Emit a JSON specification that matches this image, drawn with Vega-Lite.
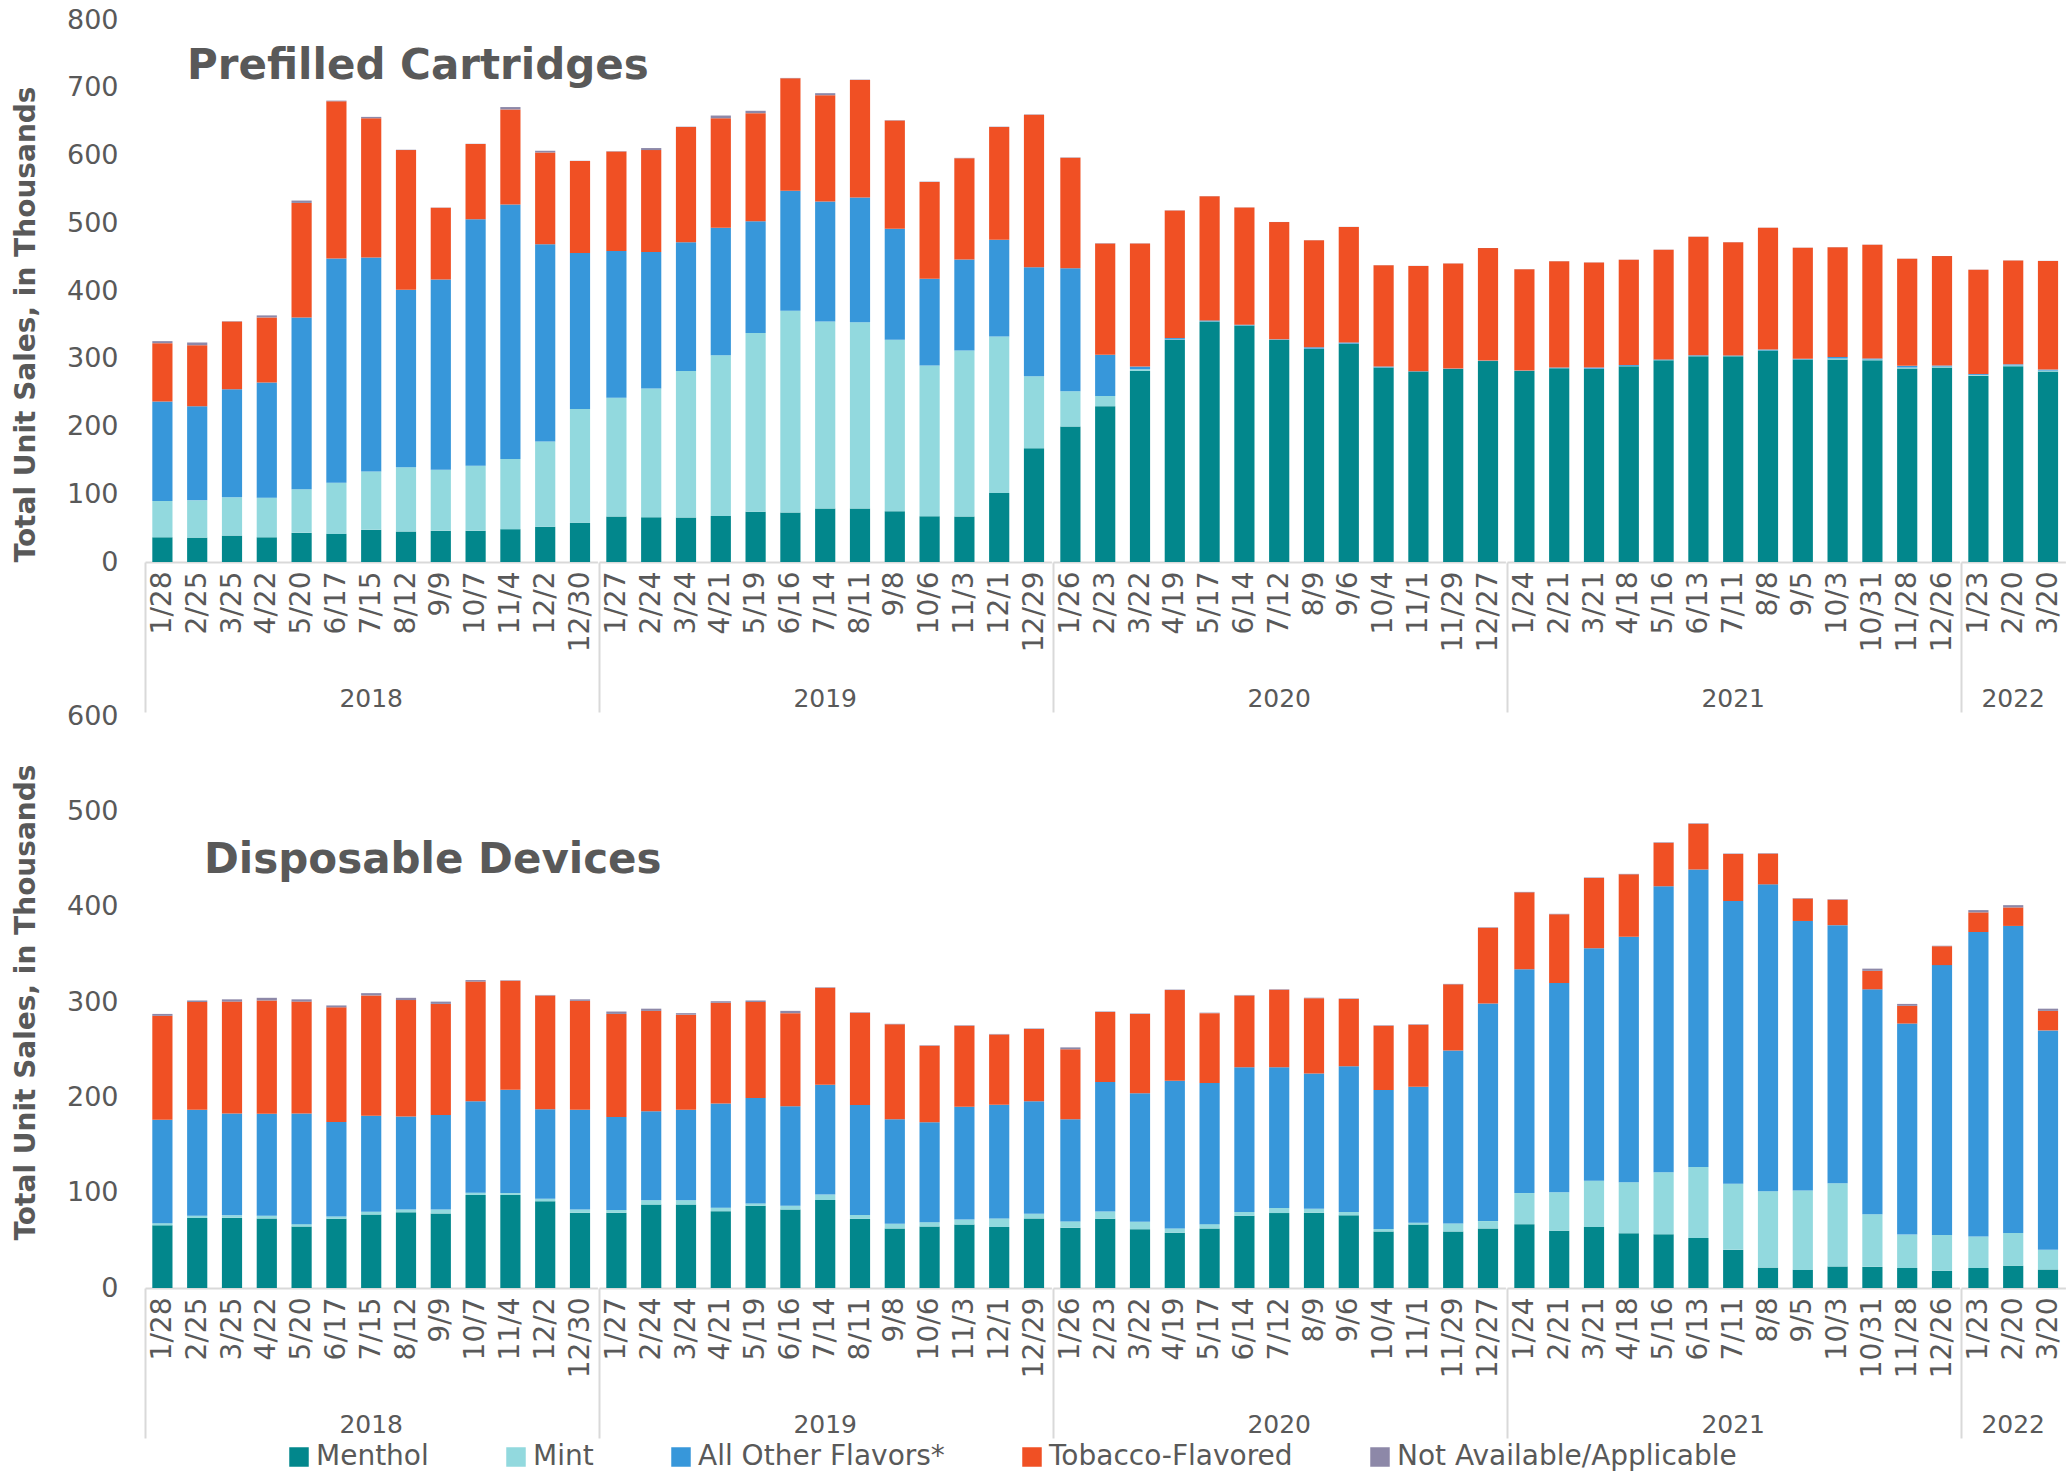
{
  "$schema": "https://vega.github.io/schema/vega-lite/v6.json",
  "padding": {"left": 12, "top": 6, "right": 2, "bottom": 2},
  "background": "white",
  "spacing": -11,
  "config": {
    "view": {"stroke": null},
    "font": "DejaVu Sans",
    "legend": {
      "orient": "none", "legendX": 140, "legendY": 1423, "direction": "horizontal", "title": null, "symbolType": "square",
      "symbolSize": 380, "symbolStrokeWidth": 0, "labelFontSize": 28, "labelColor": "#595959",
      "columnPadding": 73, "labelOffset": 3, "labelLimit": 500
    },
    "header": {"labelFontSize": 25, "labelColor": "#595959", "labelFont": "DejaVu Sans", "labelOrient": "bottom", "labelPadding": -26, "title": null}
  },
  "datasets": {
    "pc": [
      {"y":"2018","d":"1/28","Menthol":36.5,"Mint":53.5,"All Other Flavors*":147,"Tobacco-Flavored":86,"Not Available/Applicable":3},
      {"y":"2018","d":"2/25","Menthol":36,"Mint":55,"All Other Flavors*":139,"Tobacco-Flavored":90,"Not Available/Applicable":4},
      {"y":"2018","d":"3/25","Menthol":39,"Mint":56.5,"All Other Flavors*":159.5,"Tobacco-Flavored":100,"Not Available/Applicable":0.5},
      {"y":"2018","d":"4/22","Menthol":36.5,"Mint":58.5,"All Other Flavors*":170,"Tobacco-Flavored":96,"Not Available/Applicable":3},
      {"y":"2018","d":"5/20","Menthol":43,"Mint":64.5,"All Other Flavors*":253.5,"Tobacco-Flavored":169,"Not Available/Applicable":3.5},
      {"y":"2018","d":"6/17","Menthol":41.5,"Mint":75.5,"All Other Flavors*":331,"Tobacco-Flavored":232,"Not Available/Applicable":1},
      {"y":"2018","d":"7/15","Menthol":47.5,"Mint":86,"All Other Flavors*":316,"Tobacco-Flavored":205.5,"Not Available/Applicable":2},
      {"y":"2018","d":"8/12","Menthol":45,"Mint":95,"All Other Flavors*":262,"Tobacco-Flavored":206,"Not Available/Applicable":0.5},
      {"y":"2018","d":"9/9","Menthol":46,"Mint":90,"All Other Flavors*":281,"Tobacco-Flavored":106,"Not Available/Applicable":0.3},
      {"y":"2018","d":"10/7","Menthol":46,"Mint":96,"All Other Flavors*":364,"Tobacco-Flavored":111,"Not Available/Applicable":0.3},
      {"y":"2018","d":"11/4","Menthol":48.5,"Mint":103.5,"All Other Flavors*":375.5,"Tobacco-Flavored":140.5,"Not Available/Applicable":3.5},
      {"y":"2018","d":"12/2","Menthol":52,"Mint":126,"All Other Flavors*":291,"Tobacco-Flavored":135.5,"Not Available/Applicable":2.5},
      {"y":"2018","d":"12/30","Menthol":58,"Mint":168,"All Other Flavors*":230,"Tobacco-Flavored":136,"Not Available/Applicable":0.3},
      {"y":"2019","d":"1/27","Menthol":67,"Mint":175.5,"All Other Flavors*":216.5,"Tobacco-Flavored":147,"Not Available/Applicable":0.5},
      {"y":"2019","d":"2/24","Menthol":66,"Mint":190,"All Other Flavors*":201.5,"Tobacco-Flavored":150.5,"Not Available/Applicable":3},
      {"y":"2019","d":"3/24","Menthol":65.5,"Mint":216.5,"All Other Flavors*":190,"Tobacco-Flavored":170,"Not Available/Applicable":0.5},
      {"y":"2019","d":"4/21","Menthol":68,"Mint":237,"All Other Flavors*":188.5,"Tobacco-Flavored":161.5,"Not Available/Applicable":4},
      {"y":"2019","d":"5/19","Menthol":74,"Mint":264,"All Other Flavors*":165,"Tobacco-Flavored":159.5,"Not Available/Applicable":3.5},
      {"y":"2019","d":"6/16","Menthol":73,"Mint":298,"All Other Flavors*":177,"Tobacco-Flavored":166,"Not Available/Applicable":0.5},
      {"y":"2019","d":"7/14","Menthol":79,"Mint":276,"All Other Flavors*":177,"Tobacco-Flavored":157,"Not Available/Applicable":3},
      {"y":"2019","d":"8/11","Menthol":79,"Mint":275,"All Other Flavors*":184,"Tobacco-Flavored":173.5,"Not Available/Applicable":0.5},
      {"y":"2019","d":"9/8","Menthol":75,"Mint":253,"All Other Flavors*":164,"Tobacco-Flavored":159.5,"Not Available/Applicable":0.5},
      {"y":"2019","d":"10/6","Menthol":67.5,"Mint":222.5,"All Other Flavors*":128,"Tobacco-Flavored":143,"Not Available/Applicable":0.5},
      {"y":"2019","d":"11/3","Menthol":67,"Mint":245,"All Other Flavors*":134.5,"Tobacco-Flavored":149.5,"Not Available/Applicable":0.5},
      {"y":"2019","d":"12/1","Menthol":102,"Mint":231,"All Other Flavors*":142.5,"Tobacco-Flavored":166.5,"Not Available/Applicable":0.5},
      {"y":"2019","d":"12/29","Menthol":168,"Mint":106,"All Other Flavors*":161,"Tobacco-Flavored":225,"Not Available/Applicable":0.5},
      {"y":"2020","d":"1/26","Menthol":200,"Mint":52,"All Other Flavors*":181.5,"Tobacco-Flavored":163,"Not Available/Applicable":0.5},
      {"y":"2020","d":"2/23","Menthol":230,"Mint":15,"All Other Flavors*":61,"Tobacco-Flavored":164,"Not Available/Applicable":0.5},
      {"y":"2020","d":"3/22","Menthol":282,"Mint":2.5,"All Other Flavors*":4,"Tobacco-Flavored":181.5,"Not Available/Applicable":0.3},
      {"y":"2020","d":"4/19","Menthol":328,"Mint":0.5,"All Other Flavors*":2,"Tobacco-Flavored":188.5,"Not Available/Applicable":0.3},
      {"y":"2020","d":"5/17","Menthol":355,"Mint":0.3,"All Other Flavors*":1.3,"Tobacco-Flavored":183.4,"Not Available/Applicable":0.2},
      {"y":"2020","d":"6/14","Menthol":349,"Mint":0.3,"All Other Flavors*":1,"Tobacco-Flavored":173,"Not Available/Applicable":0.2},
      {"y":"2020","d":"7/12","Menthol":328,"Mint":0.2,"All Other Flavors*":0.5,"Tobacco-Flavored":173,"Not Available/Applicable":0.2},
      {"y":"2020","d":"8/9","Menthol":314.6,"Mint":0.3,"All Other Flavors*":2,"Tobacco-Flavored":158,"Not Available/Applicable":0.2},
      {"y":"2020","d":"9/6","Menthol":322,"Mint":0.3,"All Other Flavors*":1.7,"Tobacco-Flavored":170.5,"Not Available/Applicable":0.2},
      {"y":"2020","d":"10/4","Menthol":287,"Mint":0.3,"All Other Flavors*":1.2,"Tobacco-Flavored":149.5,"Not Available/Applicable":0.2},
      {"y":"2020","d":"11/1","Menthol":281,"Mint":0.2,"All Other Flavors*":0.5,"Tobacco-Flavored":155.3,"Not Available/Applicable":0.2},
      {"y":"2020","d":"11/29","Menthol":285,"Mint":0.2,"All Other Flavors*":0.5,"Tobacco-Flavored":155,"Not Available/Applicable":0.2},
      {"y":"2020","d":"12/27","Menthol":296.6,"Mint":0.2,"All Other Flavors*":0.5,"Tobacco-Flavored":166,"Not Available/Applicable":0.2},
      {"y":"2021","d":"1/24","Menthol":282,"Mint":0.2,"All Other Flavors*":0.5,"Tobacco-Flavored":149.3,"Not Available/Applicable":0.2},
      {"y":"2021","d":"2/21","Menthol":286,"Mint":0.2,"All Other Flavors*":0.8,"Tobacco-Flavored":157,"Not Available/Applicable":0.2},
      {"y":"2021","d":"3/21","Menthol":285,"Mint":0.2,"All Other Flavors*":1.8,"Tobacco-Flavored":155,"Not Available/Applicable":0.2},
      {"y":"2021","d":"4/18","Menthol":289,"Mint":0.3,"All Other Flavors*":1.3,"Tobacco-Flavored":155.4,"Not Available/Applicable":0.2},
      {"y":"2021","d":"5/16","Menthol":297.7,"Mint":0.3,"All Other Flavors*":1,"Tobacco-Flavored":162,"Not Available/Applicable":0.2},
      {"y":"2021","d":"6/13","Menthol":303.7,"Mint":0.3,"All Other Flavors*":1,"Tobacco-Flavored":175,"Not Available/Applicable":0.2},
      {"y":"2021","d":"7/11","Menthol":303.7,"Mint":0.3,"All Other Flavors*":0.8,"Tobacco-Flavored":167.2,"Not Available/Applicable":0.2},
      {"y":"2021","d":"8/8","Menthol":312,"Mint":0.3,"All Other Flavors*":1.2,"Tobacco-Flavored":180,"Not Available/Applicable":0.2},
      {"y":"2021","d":"9/5","Menthol":298.8,"Mint":0.3,"All Other Flavors*":0.9,"Tobacco-Flavored":164,"Not Available/Applicable":0.2},
      {"y":"2021","d":"10/3","Menthol":298.8,"Mint":1.5,"All Other Flavors*":2.3,"Tobacco-Flavored":162,"Not Available/Applicable":0.2},
      {"y":"2021","d":"10/31","Menthol":297.7,"Mint":1.2,"All Other Flavors*":1.5,"Tobacco-Flavored":168,"Not Available/Applicable":0.2},
      {"y":"2021","d":"11/28","Menthol":285.7,"Mint":1.3,"All Other Flavors*":2.5,"Tobacco-Flavored":158,"Not Available/Applicable":0.2},
      {"y":"2021","d":"12/26","Menthol":287,"Mint":1.5,"All Other Flavors*":1.5,"Tobacco-Flavored":161.5,"Not Available/Applicable":0.2},
      {"y":"2022","d":"1/23","Menthol":275,"Mint":1.2,"All Other Flavors*":1.3,"Tobacco-Flavored":153.8,"Not Available/Applicable":0.2},
      {"y":"2022","d":"2/20","Menthol":289,"Mint":1.2,"All Other Flavors*":1.5,"Tobacco-Flavored":153.3,"Not Available/Applicable":0.2},
      {"y":"2022","d":"3/20","Menthol":281,"Mint":1.5,"All Other Flavors*":1.5,"Tobacco-Flavored":160.4,"Not Available/Applicable":0.2}
    ],
    "dd": [
      {"y":"2018","d":"1/28","Menthol":65.7,"Mint":2.3,"All Other Flavors*":108.6,"Tobacco-Flavored":108.9,"Not Available/Applicable":2},
      {"y":"2018","d":"2/25","Menthol":73.4,"Mint":2.4,"All Other Flavors*":111.2,"Tobacco-Flavored":113,"Not Available/Applicable":1.6},
      {"y":"2018","d":"3/25","Menthol":73.8,"Mint":2.4,"All Other Flavors*":106.8,"Tobacco-Flavored":117.4,"Not Available/Applicable":2.4},
      {"y":"2018","d":"4/22","Menthol":73,"Mint":2.8,"All Other Flavors*":106.9,"Tobacco-Flavored":118.9,"Not Available/Applicable":2.8},
      {"y":"2018","d":"5/20","Menthol":64.5,"Mint":2.5,"All Other Flavors*":116,"Tobacco-Flavored":117.4,"Not Available/Applicable":2.4},
      {"y":"2018","d":"6/17","Menthol":72.6,"Mint":2.4,"All Other Flavors*":99,"Tobacco-Flavored":120.4,"Not Available/Applicable":2},
      {"y":"2018","d":"7/15","Menthol":77,"Mint":3,"All Other Flavors*":100.6,"Tobacco-Flavored":126.3,"Not Available/Applicable":2.4},
      {"y":"2018","d":"8/12","Menthol":79.4,"Mint":2.9,"All Other Flavors*":97.5,"Tobacco-Flavored":122.2,"Not Available/Applicable":2.4},
      {"y":"2018","d":"9/9","Menthol":78.2,"Mint":4.1,"All Other Flavors*":99.2,"Tobacco-Flavored":116.5,"Not Available/Applicable":2.4},
      {"y":"2018","d":"10/7","Menthol":97.6,"Mint":2.4,"All Other Flavors*":96,"Tobacco-Flavored":125.4,"Not Available/Applicable":1.6},
      {"y":"2018","d":"11/4","Menthol":97.6,"Mint":2,"All Other Flavors*":108.4,"Tobacco-Flavored":114.2,"Not Available/Applicable":0.5},
      {"y":"2018","d":"12/2","Menthol":91,"Mint":2.5,"All Other Flavors*":94,"Tobacco-Flavored":119.4,"Not Available/Applicable":0.5},
      {"y":"2018","d":"12/30","Menthol":79,"Mint":3.3,"All Other Flavors*":104.7,"Tobacco-Flavored":114.2,"Not Available/Applicable":1.6},
      {"y":"2019","d":"1/27","Menthol":79,"Mint":2.9,"All Other Flavors*":97.5,"Tobacco-Flavored":108.1,"Not Available/Applicable":2.5},
      {"y":"2019","d":"2/24","Menthol":87.5,"Mint":4.5,"All Other Flavors*":93.5,"Tobacco-Flavored":105.2,"Not Available/Applicable":2.3},
      {"y":"2019","d":"3/24","Menthol":87.5,"Mint":4.5,"All Other Flavors*":95,"Tobacco-Flavored":99.7,"Not Available/Applicable":1.6},
      {"y":"2019","d":"4/21","Menthol":80.6,"Mint":3.7,"All Other Flavors*":109.2,"Tobacco-Flavored":105.7,"Not Available/Applicable":1.6},
      {"y":"2019","d":"5/19","Menthol":86.3,"Mint":2.4,"All Other Flavors*":110.5,"Tobacco-Flavored":100.8,"Not Available/Applicable":1.6},
      {"y":"2019","d":"6/16","Menthol":82.3,"Mint":4,"All Other Flavors*":104.4,"Tobacco-Flavored":97.6,"Not Available/Applicable":2.4},
      {"y":"2019","d":"7/14","Menthol":92.3,"Mint":5.7,"All Other Flavors*":115.3,"Tobacco-Flavored":101.7,"Not Available/Applicable":0.5},
      {"y":"2019","d":"8/11","Menthol":72.6,"Mint":4,"All Other Flavors*":115.4,"Tobacco-Flavored":96.7,"Not Available/Applicable":0.5},
      {"y":"2019","d":"9/8","Menthol":62.5,"Mint":4.8,"All Other Flavors*":109.7,"Tobacco-Flavored":99.6,"Not Available/Applicable":0.5},
      {"y":"2019","d":"10/6","Menthol":64.5,"Mint":4.5,"All Other Flavors*":104.8,"Tobacco-Flavored":80.2,"Not Available/Applicable":0.5},
      {"y":"2019","d":"11/3","Menthol":66.5,"Mint":5.3,"All Other Flavors*":118.2,"Tobacco-Flavored":85,"Not Available/Applicable":0.5},
      {"y":"2019","d":"12/1","Menthol":64,"Mint":9,"All Other Flavors*":119.3,"Tobacco-Flavored":73.7,"Not Available/Applicable":0.5},
      {"y":"2019","d":"12/29","Menthol":73,"Mint":4.8,"All Other Flavors*":118.2,"Tobacco-Flavored":75.8,"Not Available/Applicable":0.5},
      {"y":"2020","d":"1/26","Menthol":63.3,"Mint":6.5,"All Other Flavors*":107.2,"Tobacco-Flavored":73.4,"Not Available/Applicable":2},
      {"y":"2020","d":"2/23","Menthol":72.6,"Mint":7.6,"All Other Flavors*":135.8,"Tobacco-Flavored":73.5,"Not Available/Applicable":0.5},
      {"y":"2020","d":"3/22","Menthol":61.7,"Mint":7.7,"All Other Flavors*":135,"Tobacco-Flavored":83.1,"Not Available/Applicable":0.5},
      {"y":"2020","d":"4/19","Menthol":58,"Mint":4.5,"All Other Flavors*":154.8,"Tobacco-Flavored":95.2,"Not Available/Applicable":0.5},
      {"y":"2020","d":"5/17","Menthol":62.5,"Mint":4.5,"All Other Flavors*":148,"Tobacco-Flavored":73.3,"Not Available/Applicable":0.5},
      {"y":"2020","d":"6/14","Menthol":75.8,"Mint":4,"All Other Flavors*":151.7,"Tobacco-Flavored":75.4,"Not Available/Applicable":0.5},
      {"y":"2020","d":"7/12","Menthol":78.6,"Mint":5.3,"All Other Flavors*":147.6,"Tobacco-Flavored":81.4,"Not Available/Applicable":0.5},
      {"y":"2020","d":"8/9","Menthol":79,"Mint":4,"All Other Flavors*":142,"Tobacco-Flavored":79,"Not Available/Applicable":0.5},
      {"y":"2020","d":"9/6","Menthol":76.2,"Mint":3.6,"All Other Flavors*":152.9,"Tobacco-Flavored":70.5,"Not Available/Applicable":0.5},
      {"y":"2020","d":"10/4","Menthol":59.3,"Mint":2.7,"All Other Flavors*":145.7,"Tobacco-Flavored":67.3,"Not Available/Applicable":0.5},
      {"y":"2020","d":"11/1","Menthol":66.5,"Mint":2,"All Other Flavors*":142.5,"Tobacco-Flavored":65.2,"Not Available/Applicable":0.5},
      {"y":"2020","d":"11/29","Menthol":59.3,"Mint":8.4,"All Other Flavors*":181.5,"Tobacco-Flavored":69.3,"Not Available/Applicable":0.5},
      {"y":"2020","d":"12/27","Menthol":62.5,"Mint":7.7,"All Other Flavors*":228.2,"Tobacco-Flavored":79.4,"Not Available/Applicable":0.5},
      {"y":"2021","d":"1/24","Menthol":67,"Mint":32.6,"All Other Flavors*":234.7,"Tobacco-Flavored":80.7,"Not Available/Applicable":0.5},
      {"y":"2021","d":"2/21","Menthol":60,"Mint":40.4,"All Other Flavors*":219.4,"Tobacco-Flavored":72.2,"Not Available/Applicable":0.5},
      {"y":"2021","d":"3/21","Menthol":64,"Mint":48.5,"All Other Flavors*":244,"Tobacco-Flavored":73.7,"Not Available/Applicable":0.5},
      {"y":"2021","d":"4/18","Menthol":57.3,"Mint":53.6,"All Other Flavors*":257.6,"Tobacco-Flavored":65.4,"Not Available/Applicable":0.5},
      {"y":"2021","d":"5/16","Menthol":56.5,"Mint":64.9,"All Other Flavors*":300,"Tobacco-Flavored":45.6,"Not Available/Applicable":0.5},
      {"y":"2021","d":"6/13","Menthol":52.4,"Mint":74.6,"All Other Flavors*":312,"Tobacco-Flavored":48,"Not Available/Applicable":0.5},
      {"y":"2021","d":"7/11","Menthol":40,"Mint":69.3,"All Other Flavors*":296.7,"Tobacco-Flavored":49.2,"Not Available/Applicable":0.5},
      {"y":"2021","d":"8/8","Menthol":21.4,"Mint":80.2,"All Other Flavors*":321.8,"Tobacco-Flavored":32.2,"Not Available/Applicable":0.5},
      {"y":"2021","d":"9/5","Menthol":19,"Mint":83.4,"All Other Flavors*":282.6,"Tobacco-Flavored":23.5,"Not Available/Applicable":0.5},
      {"y":"2021","d":"10/3","Menthol":22.6,"Mint":87.4,"All Other Flavors*":270.6,"Tobacco-Flavored":26.7,"Not Available/Applicable":0.5},
      {"y":"2021","d":"10/31","Menthol":22.2,"Mint":55.2,"All Other Flavors*":235.9,"Tobacco-Flavored":19.4,"Not Available/Applicable":2.3},
      {"y":"2021","d":"11/28","Menthol":21,"Mint":35,"All Other Flavors*":221.4,"Tobacco-Flavored":18.6,"Not Available/Applicable":2},
      {"y":"2021","d":"12/26","Menthol":18,"Mint":37.6,"All Other Flavors*":283.1,"Tobacco-Flavored":19.8,"Not Available/Applicable":0.5},
      {"y":"2022","d":"1/23","Menthol":21,"Mint":33,"All Other Flavors*":319.4,"Tobacco-Flavored":20.6,"Not Available/Applicable":2.4},
      {"y":"2022","d":"2/20","Menthol":23.4,"Mint":34.3,"All Other Flavors*":322.1,"Tobacco-Flavored":19.4,"Not Available/Applicable":2.4},
      {"y":"2022","d":"3/20","Menthol":19.4,"Mint":20.6,"All Other Flavors*":230.2,"Tobacco-Flavored":20.5,"Not Available/Applicable":2.3}
    ]
  },
  "vconcat": [
    {
      "data": {"name": "pc"},
      "transform": [
        {"fold": ["Menthol", "Mint", "All Other Flavors*", "Tobacco-Flavored", "Not Available/Applicable"], "as": ["f", "v"]},
        {"window": [{"op": "row_number", "as": "k"}], "groupby": ["d"]}
      ],
      "title": {"text": "Prefilled Cartridges", "anchor": "start", "frame": "group", "orient": "top", "fontSize": 42, "fontWeight": "bold", "font": "DejaVu Sans", "color": "#595959", "baseline": "alphabetic", "offset": 0, "dx": 42, "dy": 115},
      "facet": {"column": {"field": "y", "type": "ordinal", "header": {"labelOrient": "bottom", "title": null}}},
      "spacing": 0,
      "resolve": {"scale": {"x": "independent"}},
      "spec": {
        "width": {"step": 34.8},
        "height": 542,
        "mark": {"type": "bar"},
        "encoding": {
          "x": {"field": "d", "type": "ordinal", "sort": null, "title": null,
            "scale": {"paddingInner": 0.42, "paddingOuter": 0.21},
            "axis": {"labelAngle": -90, "labelFontSize": 28, "labelColor": "#595959", "labelPadding": -141, "labelOverlap": false,
              "domainColor": "#D9D9D9", "domainWidth": 2, "tickColor": "#D9D9D9", "tickWidth": 2, "tickSize": 150,
              "tickOffset": -17.4, "labelOffset": 17.4,
              "tickOpacity": {"condition": {"test": "datum.index == 0", "value": 1}, "value": 0}}},
          "y": {"field": "v", "type": "quantitative", "stack": "zero",
            "scale": {"domain": [0, 800]},
            "axis": {"values": [0,100,200,300,400,500,600,700,800], "grid": false, "domain": false, "ticks": false,
              "labelFontSize": 27, "labelColor": "#595959", "labelPadding": 26,
              "title": "Total Unit Sales, in Thousands", "titleFontSize": 28, "titleFontWeight": "bold", "titleColor": "#595959", "titlePadding": 26, "titleAnchor": "start"}},
          "color": {"field": "f", "type": "nominal",
            "scale": {"domain": ["Menthol", "Mint", "All Other Flavors*", "Tobacco-Flavored", "Not Available/Applicable"],
                      "range": ["#02878C", "#92D9DE", "#3797DA", "#F05024", "#8D88A8"]}},
          "order": {"field": "k", "type": "quantitative", "sort": "ascending"}
        }
      }
    },
    {
      "data": {"name": "dd"},
      "transform": [
        {"fold": ["Menthol", "Mint", "All Other Flavors*", "Tobacco-Flavored", "Not Available/Applicable"], "as": ["f", "v"]},
        {"window": [{"op": "row_number", "as": "k"}], "groupby": ["d"]}
      ],
      "title": {"text": "Disposable Devices", "anchor": "start", "frame": "group", "orient": "top", "fontSize": 42, "fontWeight": "bold", "font": "DejaVu Sans", "color": "#595959", "baseline": "alphabetic", "offset": 0, "dx": 59, "dy": 213},
      "facet": {"column": {"field": "y", "type": "ordinal", "header": {"labelOrient": "bottom", "title": null}}},
      "spacing": 0,
      "resolve": {"scale": {"x": "independent"}},
      "spec": {
        "width": {"step": 34.8},
        "height": 572,
        "mark": {"type": "bar"},
        "encoding": {
          "x": {"field": "d", "type": "ordinal", "sort": null, "title": null,
            "scale": {"paddingInner": 0.42, "paddingOuter": 0.21},
            "axis": {"labelAngle": -90, "labelFontSize": 28, "labelColor": "#595959", "labelPadding": -141, "labelOverlap": false,
              "domainColor": "#D9D9D9", "domainWidth": 2, "tickColor": "#D9D9D9", "tickWidth": 2, "tickSize": 150,
              "tickOffset": -17.4, "labelOffset": 17.4,
              "tickOpacity": {"condition": {"test": "datum.index == 0", "value": 1}, "value": 0}}},
          "y": {"field": "v", "type": "quantitative", "stack": "zero",
            "scale": {"domain": [0, 600]},
            "axis": {"values": [0,100,200,300,400,500,600], "grid": false, "domain": false, "ticks": false,
              "labelFontSize": 27, "labelColor": "#595959", "labelPadding": 26,
              "title": "Total Unit Sales, in Thousands", "titleFontSize": 28, "titleFontWeight": "bold", "titleColor": "#595959", "titlePadding": 26}},
          "color": {"field": "f", "type": "nominal",
            "scale": {"domain": ["Menthol", "Mint", "All Other Flavors*", "Tobacco-Flavored", "Not Available/Applicable"],
                      "range": ["#02878C", "#92D9DE", "#3797DA", "#F05024", "#8D88A8"]}},
          "order": {"field": "k", "type": "quantitative", "sort": "ascending"}
        }
      }
    }
  ]
}
